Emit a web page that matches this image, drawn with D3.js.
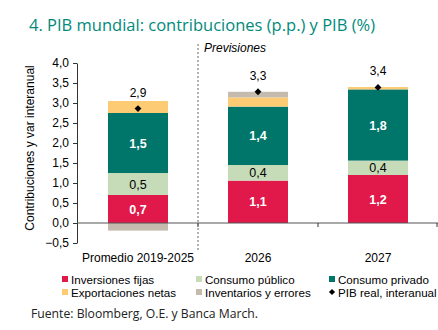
<!DOCTYPE html>
<html>
<head>
<meta charset="utf-8">
<script src="https://cdn.jsdelivr.net/npm/d3@7"></script>
<style>
  body { margin: 0; background: #fff; }
  svg text { font-family: "Liberation Sans", Arial, sans-serif; }
</style>
</head>
<body>
<div id="chart"></div>
<script>
// data
var categories = ["Promedio 2019-2025", "2026", "2027"];
var inversiones = [0.70, 1.06, 1.20];
var consumoPublico = [0.55, 0.39, 0.36];
var consumoPrivado = [1.50, 1.46, 1.78];
var exportaciones = [0.30, 0.23, 0.06];
var inventarios = [-0.19, 0.14, 0.00];
var pibReal = [2.86, 3.28, 3.39];

var invLabels = ["0,7", "1,1", "1,2"];
var pubLabels = ["0,5", "0,4", "0,4"];
var privLabels = ["1,5", "1,4", "1,8"];
var pibLabels = ["2,9", "3,3", "3,4"];

var yTicks = [-0.5, 0, 0.5, 1, 1.5, 2, 2.5, 3, 3.5, 4];

var seriesKeys = ["inv", "pub", "priv", "exp", "invent"];
var seriesNames = ["Inversiones fijas", "Consumo público", "Consumo privado", "Exportaciones netas", "Inventarios y errores"];
var colors = ["#E0194A", "#C6DCB8", "#00766A", "#FDCB74", "#C4BAAE"];

var width = 438, height = 330;

var svg = d3.select("#chart").append("svg")
    .attr("width", width)
    .attr("height", height);

var rows = categories.map(function(c, i) {
    return { cat: c, inv: inversiones[i], pub: consumoPublico[i], priv: consumoPrivado[i], exp: exportaciones[i], invent: inventarios[i] };
});

var stacked = d3.stack().keys(seriesKeys).offset(d3.stackOffsetDiverging)(rows);

var x = d3.scaleBand()
    .domain(categories)
    .range([78, 438])
    .paddingInner(0.5)
    .paddingOuter(0.25);

var y = d3.scaleLinear()
    .domain([-0.5, 4])
    .range([243, 63]);

// title
svg.append("text")
    .attr("x", 29).attr("y", 31)
    .style("font-family", "'Open Sans', sans-serif")
    .style("font-size", "16.5px")
    .style("fill", "#008A7C")
    .text("4. PIB mundial: contribuciones (p.p.) y PIB (%)");

// bars
svg.append("g").selectAll("g")
    .data(stacked)
    .enter().append("g")
    .attr("fill", function(d, i) { return colors[i]; })
    .selectAll("rect")
    .data(function(d) { return d; })
    .enter().append("rect")
    .attr("x", function(d) { return x(d.data.cat); })
    .attr("y", function(d) { return y(d[1]); })
    .attr("width", x.bandwidth())
    .attr("height", function(d) { return y(d[0]) - y(d[1]); });

// y axis
var yAxis = svg.append("g")
    .attr("transform", "translate(77,0)")
    .call(d3.axisLeft(y).tickValues(yTicks).tickSize(4).tickSizeOuter(0)
        .tickFormat(function(d) { return d3.format(".1f")(d).replace(".", ","); }));
yAxis.select(".domain").attr("stroke", "#333");
yAxis.selectAll(".tick line").attr("stroke", "#333");
yAxis.selectAll("text").style("font-size", "12px").style("fill", "#000")
    .style("font-family", "'Liberation Sans', Arial, sans-serif").attr("x", -8);

// zero line
svg.append("line")
    .attr("x1", 77).attr("x2", 438)
    .attr("y1", y(0)).attr("y2", y(0))
    .attr("stroke", "#555").attr("stroke-width", 1);

// category boundary ticks
var bounds = [198, 318, 437];
svg.append("g").selectAll("line")
    .data(bounds)
    .enter().append("line")
    .attr("x1", function(d) { return d; }).attr("x2", function(d) { return d; })
    .attr("y1", y(0)).attr("y2", y(0) + 4)
    .attr("stroke", "#333");

// dashed forecast divider
svg.append("line")
    .attr("x1", 198).attr("x2", 198)
    .attr("y1", 44).attr("y2", 250)
    .attr("stroke", "#666")
    .attr("stroke-dasharray", "2,2");

svg.append("text")
    .attr("x", 204).attr("y", 52)
    .style("font-size", "12px")
    .style("font-style", "italic")
    .text("Previsiones");

// segment labels
function segLabels(idx, labels, color, bold) {
    svg.append("g").selectAll("text")
        .data(stacked[idx])
        .enter().append("text")
        .attr("x", function(d) { return x(d.data.cat) + x.bandwidth() / 2; })
        .attr("y", function(d) { return (y(d[0]) + y(d[1])) / 2 + 4.5; })
        .attr("text-anchor", "middle")
        .style("font-size", "12.5px")
        .style("font-weight", bold ? "bold" : "normal")
        .style("fill", color)
        .text(function(d, i) { return labels[i]; });
}
segLabels(0, invLabels, "#fff", true);
segLabels(1, pubLabels, "#000", false);
segLabels(2, privLabels, "#fff", true);

// PIB real diamonds
svg.append("g").selectAll("path")
    .data(pibReal)
    .enter().append("path")
    .attr("d", d3.symbol().type(d3.symbolDiamond2).size(30))
    .attr("transform", function(d, i) { return "translate(" + (x(categories[i]) + x.bandwidth() / 2) + "," + y(d) + ")"; })
    .attr("fill", "#000");

svg.append("g").selectAll("text")
    .data(pibReal)
    .enter().append("text")
    .attr("x", function(d, i) { return x(categories[i]) + x.bandwidth() / 2; })
    .attr("y", function(d) { return y(d) - 12; })
    .attr("text-anchor", "middle")
    .style("font-size", "12px")
    .text(function(d, i) { return pibLabels[i]; });

// category labels
svg.append("g").selectAll("text")
    .data(categories)
    .enter().append("text")
    .attr("x", function(d) { return x(d) + x.bandwidth() / 2; })
    .attr("y", 262)
    .attr("text-anchor", "middle")
    .style("font-size", "12px")
    .text(function(d) { return d; });

// y axis title
svg.append("text")
    .attr("transform", "translate(34,148) rotate(-90)")
    .attr("text-anchor", "middle")
    .style("font-size", "12px")
    .text("Contribuciones  y var interanual");

// legend
var legendItems = seriesNames.map(function(n, i) { return { name: n, color: colors[i], diamond: false }; });
legendItems.push({ name: "PIB real, interanual", color: "#000", diamond: true });
var legendX = [62, 196, 329];
var legendY = [279, 292];

var leg = svg.append("g").selectAll("g")
    .data(legendItems)
    .enter().append("g")
    .attr("transform", function(d, i) { return "translate(" + legendX[i % 3] + "," + legendY[Math.floor(i / 3)] + ")"; });

leg.filter(function(d) { return !d.diamond; }).append("rect")
    .attr("x", 0).attr("y", -3).attr("width", 6).attr("height", 6)
    .attr("fill", function(d) { return d.color; });

leg.filter(function(d) { return d.diamond; }).append("path")
    .attr("d", d3.symbol().type(d3.symbolDiamond2).size(24))
    .attr("transform", "translate(3,0)")
    .attr("fill", "#000");

leg.append("text")
    .attr("x", 9).attr("y", 4.5)
    .style("font-size", "11.6px")
    .text(function(d) { return d.name; });

// source
svg.append("text")
    .attr("x", 31).attr("y", 318)
    .style("font-family", "'Open Sans', sans-serif")
    .style("font-size", "12.2px")
    .style("fill", "#222")
    .text("Fuente: Bloomberg, O.E. y Banca March.");
</script>
</body>
</html>
